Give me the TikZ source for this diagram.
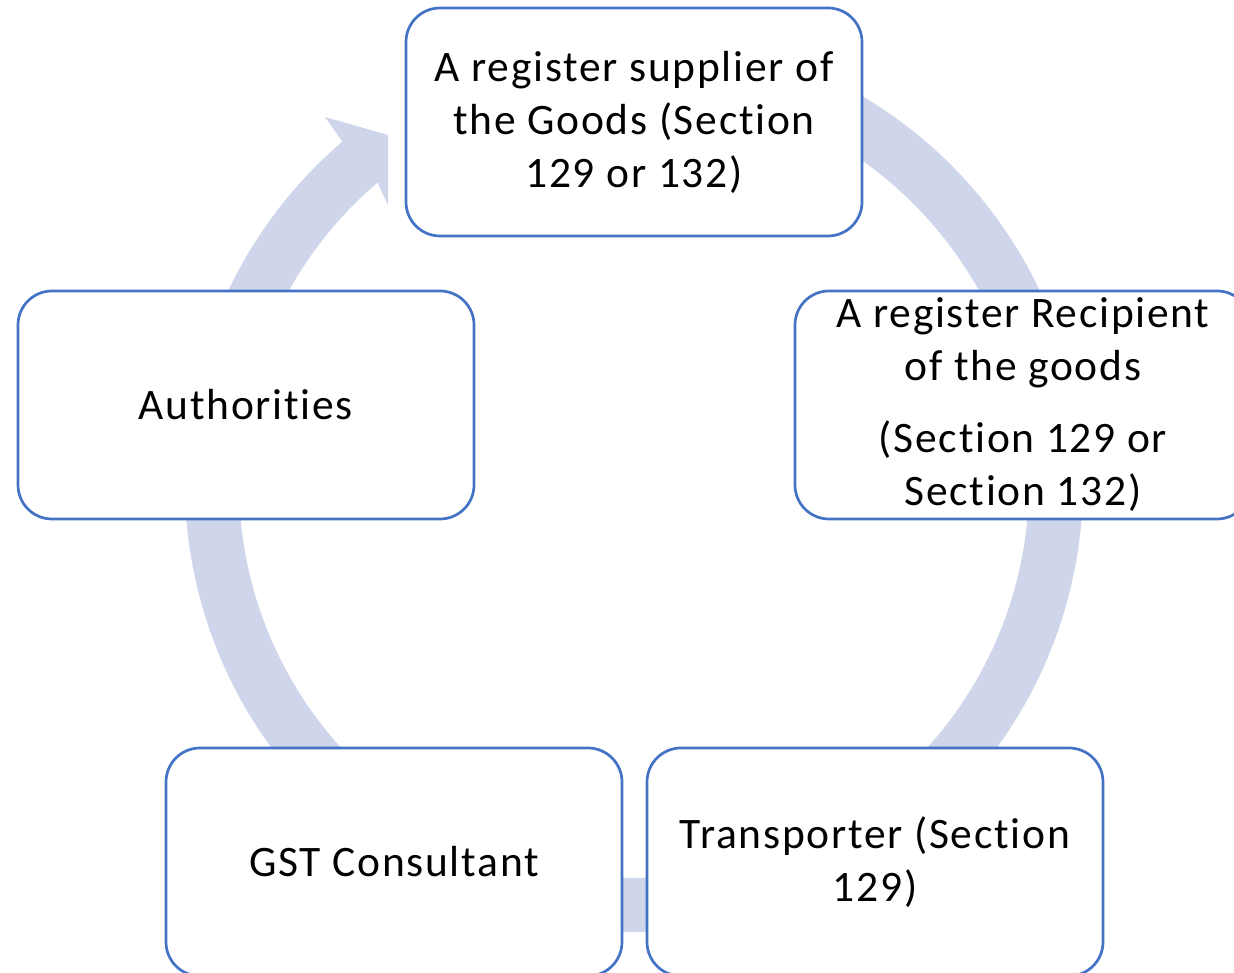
\documentclass[tikz,border=0pt]{standalone}
\usepackage{fontspec}
\setmainfont{Carlito}[Ligatures=NoCommon, LetterSpace=4]
\usetikzlibrary{calc}
\definecolor{boxblue}{HTML}{4472C4}
\definecolor{bandblue}{HTML}{CFD5EA}
\begin{document}
\begin{tikzpicture}[x=1pt,y=1pt,
  card/.style={draw=boxblue, line width=2.7pt, fill=white, rounded corners=34pt,
    minimum width=456pt, minimum height=228pt, align=center, inner sep=0pt,
    font=\fontsize{43.5}{53}\selectfont, text=black},
  band/.style={fill=bandblue}]
\useasboundingbox (0,0) rectangle (1234,973);
\coordinate (c) at (634,490);
\fill[band] ($(c)+(75:449)$) arc[start angle=75,end angle=-229.5,radius=449]
  -- (325,856) -- (388,838) -- (388,768) -- ($(c)+(130.5:395)$)
  arc[start angle=-229.5,end angle=75,radius=395] -- cycle;
\node[card] (sup) at (634,851) {A register supplier of\\the Goods (Section\\129 or 132)};
\node[card] (rec) at (1023,568) {A register Recipient\\of the goods\\[19pt](Section 129 or\\Section 132)};
\node[card] (auth) at (246,568) {Authorities};
\node[card] (gst) at (394,111) {GST Consultant};
\node[card] (tra) at (875,111) {Transporter (Section\\129)};
\end{tikzpicture}
\end{document}
